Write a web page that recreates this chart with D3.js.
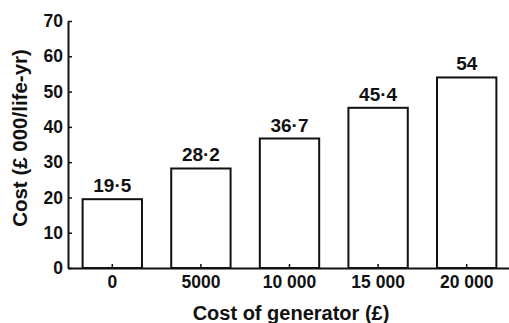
<!DOCTYPE html>
<html lang="en">
<head>
  <meta charset="UTF-8" />
  <title>Cost per life-year by generator cost</title>
  <style>
    html, body { margin: 0; padding: 0; background: #fff; }
    svg { display: block; font-family: "Liberation Sans", Arial, sans-serif; }
    .tick-label { font-size: 17.5px; font-weight: bold; fill: #111; }
    .value-label { font-size: 19px; font-weight: bold; fill: #111; }
    .axis-title { font-size: 20px; font-weight: bold; fill: #111; }
  </style>
</head>
<body>
  <div id="chart"></div>

  <script src="https://d3js.org/d3.v7.min.js"></script>
  <script>
    // Chart data
    const generatorCosts = ["0", "5000", "10 000", "15 000", "20 000"];
    const costPerLifeYear = [19.5, 28.2, 36.7, 45.4, 54];
    const valueLabels = ["19·5", "28·2", "36·7", "45·4", "54"];
    const yTicks = [0, 10, 20, 30, 40, 50, 60, 70];

    const width = 509;
    const height = 323;
    const plot = { left: 68, right: 511, top: 21, bottom: 268 };

    const svg = d3.select("#chart")
      .append("svg")
      .attr("width", width)
      .attr("height", height);

    const x = d3.scaleBand()
      .domain(generatorCosts)
      .range([plot.left, plot.right])
      .paddingInner(0.33)
      .paddingOuter(0.165);

    const y = d3.scaleLinear()
      .domain([0, 70])
      .range([plot.bottom, plot.top]);

    // Bars
    svg.selectAll("rect.bar")
      .data(costPerLifeYear)
      .enter()
      .append("rect")
      .attr("class", "bar")
      .attr("x", (d, i) => x(generatorCosts[i]))
      .attr("y", d => y(d))
      .attr("width", x.bandwidth())
      .attr("height", d => y(0) - y(d))
      .attr("fill", "#fff")
      .attr("stroke", "#111")
      .attr("stroke-width", 2);

    // Value labels above bars
    svg.selectAll("text.value-label")
      .data(costPerLifeYear)
      .enter()
      .append("text")
      .attr("class", "value-label")
      .attr("x", (d, i) => x(generatorCosts[i]) + x.bandwidth() / 2)
      .attr("y", d => y(d) - 7)
      .attr("text-anchor", "middle")
      .text((d, i) => valueLabels[i]);

    // Y axis (ticks point inward)
    const yAxis = svg.append("g")
      .attr("transform", `translate(${plot.left},0)`)
      .call(d3.axisLeft(y).tickValues(yTicks).tickSizeInner(-4).tickSizeOuter(0).tickPadding(5));
    yAxis.select(".domain").attr("stroke", "#111").attr("stroke-width", 2);
    yAxis.selectAll(".tick line").attr("stroke", "#111").attr("stroke-width", 1.5);
    yAxis.selectAll(".tick text").attr("class", "tick-label").attr("font-size", null).attr("font-family", null);

    // X axis (ticks point inward)
    const xAxis = svg.append("g")
      .attr("transform", `translate(0,${plot.bottom})`)
      .call(d3.axisBottom(x).tickSizeInner(-4).tickSizeOuter(0).tickPadding(8));
    xAxis.select(".domain").attr("stroke", "#111").attr("stroke-width", 2);
    xAxis.selectAll(".tick line").attr("stroke", "#111").attr("stroke-width", 1.5);
    xAxis.selectAll(".tick text").attr("class", "tick-label").attr("font-size", null).attr("font-family", null);

    // Axis titles
    svg.append("text")
      .attr("class", "axis-title")
      .attr("x", 291)
      .attr("y", 320)
      .attr("text-anchor", "middle")
      .text("Cost of generator (£)");

    svg.append("text")
      .attr("class", "axis-title")
      .attr("transform", "translate(27,138) rotate(-90)")
      .attr("text-anchor", "middle")
      .attr("style", "font-size: 20.5px")
      .text("Cost (£ 000/life-yr)");
  </script>
</body>
</html>
